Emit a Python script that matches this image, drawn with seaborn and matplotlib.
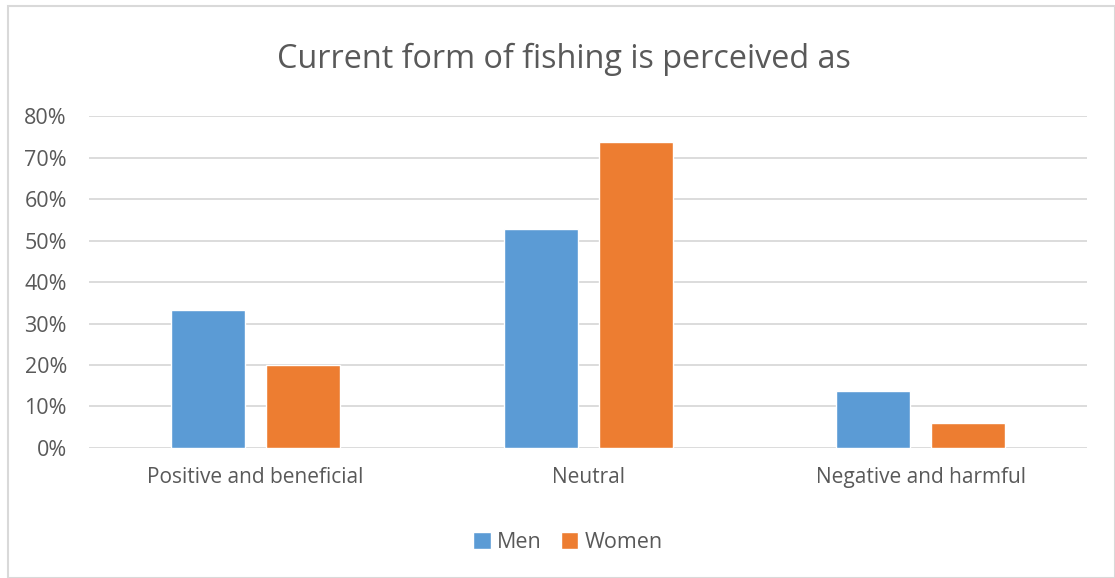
import pandas as pd
import matplotlib.pyplot as plt
import seaborn as sns
from matplotlib.patches import Rectangle
from matplotlib.ticker import PercentFormatter

# данные
categories = ['Positive and beneficial', 'Neutral', 'Negative and harmful']
men = [0.332, 0.527, 0.138]
women = [0.199, 0.737, 0.061]
groups = ['Men', 'Women']

df = pd.DataFrame({
    'category': categories * 2,
    'share': men + women,
    'group': [groups[0]] * 3 + [groups[1]] * 3,
})

sns.set_style('white')
plt.rcParams['font.family'] = ['Open Sans', 'DejaVu Sans']
text_col = '#595959'

fig = plt.figure(figsize=(11.15, 5.78), dpi=100)
ax = fig.add_axes([0.080, 0.225, 0.895, 0.574])

sns.barplot(data=df, x='category', y='share', hue='group',
            palette=['#5B9BD5', '#ED7D31'], width=0.57, gap=0.22,
            saturation=1, ax=ax, zorder=3)

ax.set_ylim(0, 0.8)
ax.set_xlim(-0.5, 2.5)
ax.set_yticks([i / 10 for i in range(9)])
ax.yaxis.set_major_formatter(PercentFormatter(1.0, decimals=0))
ax.grid(axis='y', color='#D9D9D9', linewidth=1.3, zorder=0)
for s in ax.spines.values():
    s.set_visible(False)
ax.tick_params(axis='both', length=0, colors=text_col)
ax.tick_params(axis='y', pad=16, labelsize=15.5)
ax.tick_params(axis='x', pad=14, labelsize=15)
ax.set_xlabel('')
ax.set_ylabel('')

ax.legend(loc='upper center', bbox_to_anchor=(0.48, -0.195), ncol=2,
          frameon=False, fontsize=15.5, handlelength=0.8, handleheight=0.8,
          handletextpad=0.3, columnspacing=0.9, labelcolor=text_col)

fig.text(0.506, 0.898, 'Current form of fishing is perceived as',
         ha='center', va='center', fontsize=23.3, color=text_col)

# рамка вокруг области диаграммы
fig.patches.append(Rectangle((0.007, 0.0), 0.993, 0.99, transform=fig.transFigure,
                             fill=False, edgecolor='#D9D9D9', linewidth=1.5))

plt.savefig('out.png', dpi=100)
